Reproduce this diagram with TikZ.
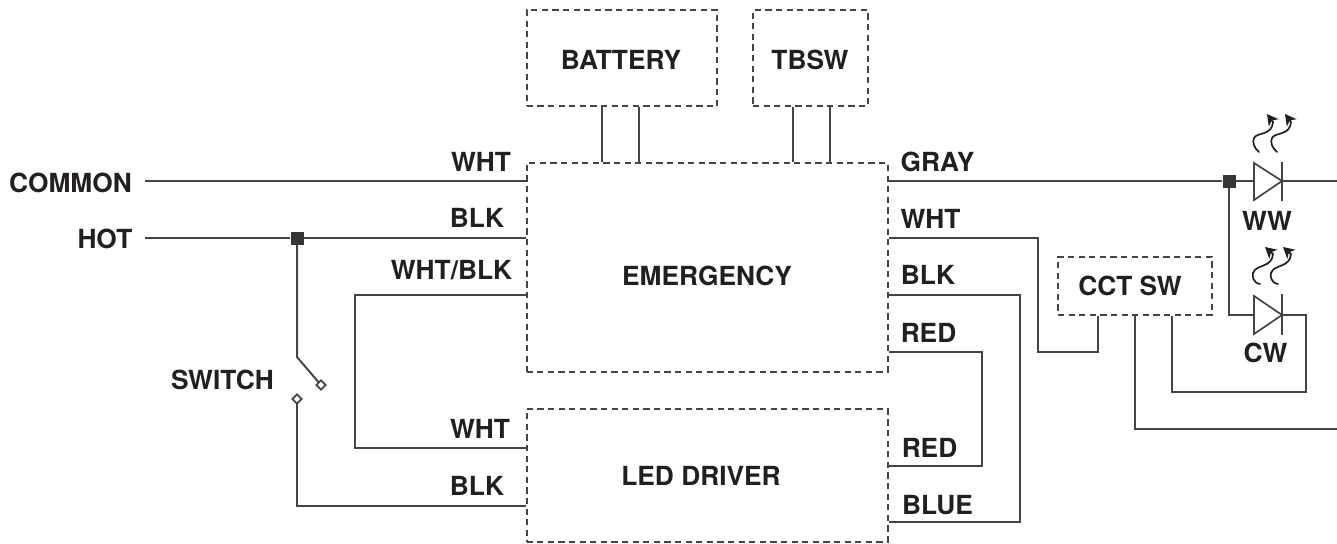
\documentclass[tikz,border=0pt]{standalone}
\usepackage{fontspec}
\setmainfont{TeX Gyre Heros}
\usetikzlibrary{shapes.geometric,arrows.meta}
\definecolor{wire}{HTML}{444444}
\definecolor{ink}{HTML}{231F20}
\tikzset{
  wireline/.style={draw=wire,line width=2pt},
  dashbox/.style={draw=wire,line width=2pt,dash pattern=on 6.2pt off 4.4pt,rectangle,inner sep=0pt},
  lbl/.style={font=\bfseries\fontsize{26.3}{26.3}\selectfont,text=ink,inner sep=0pt},
  junction/.style={fill=ink!90!white,draw=none,rectangle,minimum size=13pt,inner sep=0pt},
  contact/.style={draw=wire,fill=white,line width=1.8pt,diamond,minimum size=10pt,inner sep=0pt},
  glow/.style={draw=ink,line width=1.7pt,line cap=round,-{Stealth[length=11pt,width=12pt,inset=3pt]}},
  diodeline/.style={draw=wire,line width=1.7pt,line join=miter}
}
\begin{document}
\begin{tikzpicture}[x=1pt,y=-1pt]
\useasboundingbox (0,0) rectangle (1337,543);
% boxes
\node[dashbox,minimum width=190.5pt,minimum height=96pt] (bat) at (622,58) {};
\node[dashbox,minimum width=115pt,minimum height=96pt] (tbsw) at (810.5,58) {};
\node[dashbox,minimum width=361pt,minimum height=209pt] (em) at (707,267.5) {};
\node[dashbox,minimum width=361pt,minimum height=132.5pt] (drv) at (707,475.3) {};
\node[dashbox,minimum width=154pt,minimum height=58pt] (cct) at (1135,286) {};
% box texts
\node[lbl] (tbat) at (621,59.5) {BATTERY};
\node[lbl] (ttb) at (810,59.5) {TBSW};
\node[lbl] (tem) at (707,275.5) {EMERGENCY};
\node[lbl] (tdrv) at (701,475.5) {LED DRIVER};
\node[lbl] (tcct) at (1130,286) {CCT SW};
% free coordinates
\coordinate (cl) at (145,181);
\coordinate (hl) at (145,238);
\coordinate (rend1) at (1337,181);
\coordinate (rend2) at (1337,429);
\node[junction] (j1) at (297,238) {};
\node[junction] (j2) at (1229,181) {};
\coordinate (sw) at (297,357);
\coordinate (c2end) at (297,505.5);
% diode anchors
\coordinate (wwa) at (1254,181);
\coordinate (wwk) at (1282,181);
\coordinate (cwa) at (1254,315);
\coordinate (cwk) at (1282,315);
% wires left
\draw[wireline] (cl) -- (em.west |- cl);
\draw[wireline] (hl) -- (j1) -- (em.west |- j1);
\draw[wireline] (j1) -- (sw) -- (321,385);
\draw[wireline] (297,399) -- (c2end) -- (drv.west |- c2end);
\draw[wireline] (em.west |- 0,295) -- (355,295) -- (355,448) -- (drv.west |- 0,448);
\node[contact] (c1) at (321,385) {};
\node[contact] (c2) at (297,399) {};
% top legs
\draw[wireline] (602,0 |- bat.south) -- (602,0 |- em.north);
\draw[wireline] (639,0 |- bat.south) -- (639,0 |- em.north);
\draw[wireline] (793,0 |- tbsw.south) -- (793,0 |- em.north);
\draw[wireline] (830,0 |- tbsw.south) -- (830,0 |- em.north);
% wires right
\draw[wireline] (em.east |- j2) -- (j2) -- (wwa);
\draw[wireline] (wwk) -- (rend1);
\draw[wireline] (j2) -- (j2 |- cwa) -- (cwa);
\draw[wireline] (cwk) -- (1306,315) -- (1306,392) -- (1172,392) -- (1172,0 |- cct.south);
\draw[wireline] (1135,0 |- cct.south) -- (1135,429) -- (rend2);
\draw[wireline] (em.east |- 0,238) -- (1038,238) -- (1038,352) -- (1098,352) -- (1098,0 |- cct.south);
\draw[wireline] (em.east |- 0,295) -- (1020,295) -- (1020,522) -- (drv.east |- 0,522);
\draw[wireline] (em.east |- 0,352) -- (982,352) -- (982,466) -- (drv.east |- 0,466);
% diodes
\draw[diodeline] (1254,163) -- (wwk) -- (1254,200) -- cycle;
\draw[diodeline] (1282,162) -- (1282,201);
\draw[diodeline] (1254,296) -- (cwk) -- (1254,334) -- cycle;
\draw[diodeline] (1282,294) -- (1282,335);
% glow arrows
\foreach \dx in {0,18}{
  \draw[glow] (1259+\dx,152) .. controls (1254+\dx,148) and (1252+\dx,142) .. (1254+\dx,138)
    .. controls (1257+\dx,132) and (1272+\dx,136) .. (1273+\dx,122) -- (1267+\dx,114);
  \draw[glow] (1260+\dx,284) .. controls (1253+\dx,283) and (1252+\dx,276) .. (1253+\dx,273)
    .. controls (1256+\dx,264) and (1272+\dx,268) .. (1273+\dx,254) -- (1265+\dx,247);
}
% labels
\node[lbl] (lcommon) at (70.5,182.5) {COMMON};
\node[lbl] (lhot) at (105,238.5) {HOT};
\node[lbl] (lswitch) at (222.5,380) {SWITCH};
\node[lbl] (lw1) at (481,161.5) {WHT};
\node[lbl] (lb1) at (477,218) {BLK};
\node[lbl] (lwb) at (451.5,270) {WHT/BLK};
\node[lbl] (lw2) at (480,428.5) {WHT};
\node[lbl] (lb2) at (477,486) {BLK};
\node[lbl] (lgray) at (937.5,161.5) {GRAY};
\node[lbl] (lw3) at (930.5,219) {WHT};
\node[lbl] (lb3) at (928,275) {BLK};
\node[lbl] (lr1) at (928.5,332.5) {RED};
\node[lbl] (lr2) at (929.5,447.5) {RED};
\node[lbl] (lblue) at (937.5,505.5) {BLUE};
\node[lbl] (lww) at (1267,220.5) {WW};
\node[lbl] (lcw) at (1265.5,353) {CW};
\end{tikzpicture}
\end{document}
